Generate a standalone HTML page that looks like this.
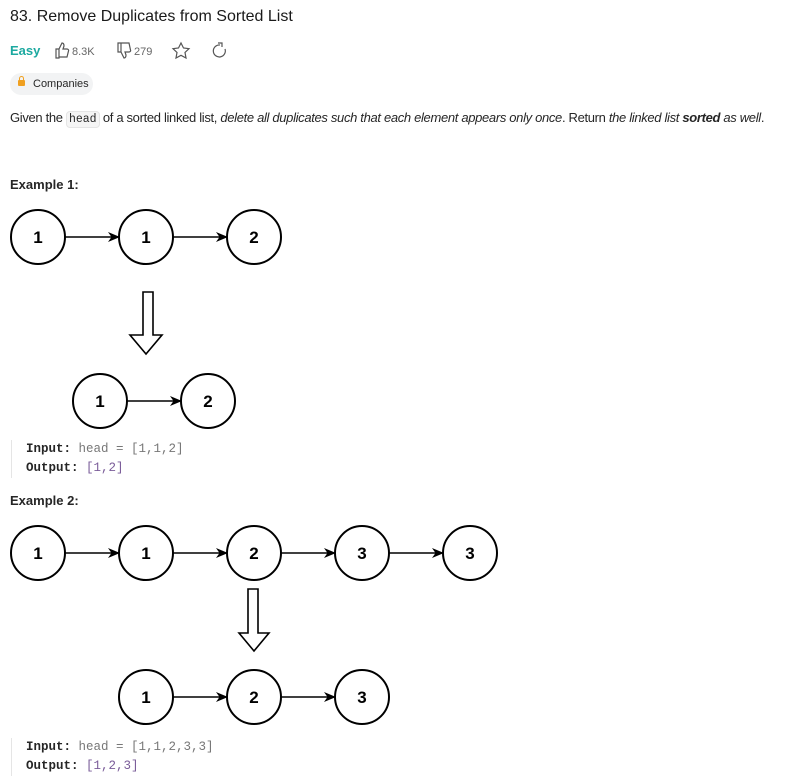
<!DOCTYPE html>
<html><head><meta charset="utf-8"><style>
body{margin:0;width:796px;height:782px;background:#fff;position:relative;font-family:"Liberation Sans",sans-serif;color:#262626;overflow:hidden}
.a{position:absolute;white-space:nowrap}
code{font-family:"Liberation Mono",monospace}
</style></head><body>
<div class="a" style="left:10px;top:8px;font-size:16px;font-weight:500;color:#1a1a1a">83. Remove Duplicates from Sorted List</div>
<div class="a" style="left:10px;top:43px;font-size:13px;color:#1ca9a0;font-weight:600">Easy</div>
<svg class="a" style="left:52px;top:40px" width="180" height="22">
<g fill="none" stroke="#555" stroke-width="1.2">
<path d="M4 9h3v9H4zM7 9l3-6c2 0 2 2 2 3l-1 3h4c1 0 2 1 1.5 2l-1.5 6H7"/>
<path d="M66 12h3V3h-3zM69 12l3 6c2 0 2-2 2-3l-1-3h4c1 0 2-1 1.5-2L77 3h-8"/>
<path d="M129 3l2.5 5 5.5.7-4 3.8 1 5.5-5-2.7-5 2.7 1-5.5-4-3.8 5.5-.7z"/>
<path d="M168 5a6 6 0 1 0 5 4M166 3h4v4"/>
</g>
<text x="20" y="15" font-size="11" fill="#666">8.3K</text>
<text x="82" y="15" font-size="11" fill="#666">279</text>
</svg>
<div class="a" style="left:10px;top:73px;width:83px;height:22px;background:#f2f3f4;border-radius:11px"></div>
<div class="a" style="left:18px;top:80px;width:7px;height:6px;background:#f0a020;border-radius:1px"></div>
<div class="a" style="left:19px;top:76px;width:3px;height:4px;border:1.5px solid #f0a020;border-bottom:none;border-radius:3px 3px 0 0"></div>
<div class="a" style="left:33px;top:78px;font-size:11px">Companies</div>
<div class="a" style="left:10px;top:110px;font-size:13px;letter-spacing:-0.33px">Given the <code style="font-size:11.5px;background:#f5f5f5;border:1px solid #e5e5e5;border-radius:4px;padding:1px 2px;letter-spacing:0">head</code> of a sorted linked list, <i>delete all duplicates such that each element appears only once</i>. Return <i>the linked list <b>sorted</b> as well</i>.</div>
<div class="a" style="left:10px;top:177px;font-size:13px;font-weight:bold">Example 1:</div>
<div class="a" style="left:10px;top:493px;font-size:13px;font-weight:bold">Example 2:</div>
<div class="a" style="left:11px;top:440px;width:1px;height:38px;background:#e5e5e5"></div>
<div class="a" style="left:26px;top:440px;font-size:12.5px;line-height:19px;font-family:'Liberation Mono',monospace"><b>Input:</b> <span style="color:#777">head = </span><span style="color:#777">[1,1,2]</span><br><b>Output:</b> <span style="color:#7a5c99">[1,2]</span></div>
<div class="a" style="left:11px;top:738px;width:1px;height:38px;background:#e5e5e5"></div>
<div class="a" style="left:26px;top:738px;font-size:12.5px;line-height:19px;font-family:'Liberation Mono',monospace"><b>Input:</b> <span style="color:#777">head = [1,1,2,3,3]</span><br><b>Output:</b> <span style="color:#7a5c99">[1,2,3]</span></div>
<svg class="a" style="left:0;top:0" width="796" height="782">
<defs><marker id="m" markerWidth="12" markerHeight="10" refX="11" refY="5" orient="auto" markerUnits="userSpaceOnUse"><path d="M0 0L12 5L0 10L3.5 5z" fill="#000"/></marker></defs>
<g fill="#fff" stroke="#000" stroke-width="2">
<circle cx="38" cy="237" r="27"/><circle cx="146" cy="237" r="27"/><circle cx="254" cy="237" r="27"/>
<circle cx="100" cy="401" r="27"/><circle cx="208" cy="401" r="27"/>
<circle cx="38" cy="553" r="27"/><circle cx="146" cy="553" r="27"/><circle cx="254" cy="553" r="27"/><circle cx="362" cy="553" r="27"/><circle cx="470" cy="553" r="27"/>
<circle cx="146" cy="697" r="27"/><circle cx="254" cy="697" r="27"/><circle cx="362" cy="697" r="27"/>
<path d="M143 292h10v43h9l-16 19-16-19h13z" stroke-width="1.6"/>
<path d="M248 589h10v44h11l-15 18-15-18h9z" stroke-width="1.6"/>
</g>
<g stroke="#000" stroke-width="1.6" marker-end="url(#m)">
<line x1="65" y1="237" x2="119" y2="237"/><line x1="173" y1="237" x2="227" y2="237"/>
<line x1="127" y1="401" x2="181" y2="401"/>
<line x1="65" y1="553" x2="119" y2="553"/><line x1="173" y1="553" x2="227" y2="553"/><line x1="281" y1="553" x2="335" y2="553"/><line x1="389" y1="553" x2="443" y2="553"/>
<line x1="173" y1="697" x2="227" y2="697"/><line x1="281" y1="697" x2="335" y2="697"/>
</g>
<g font-size="17" font-weight="bold" text-anchor="middle" fill="#000" font-family="Liberation Sans,sans-serif">
<text x="38" y="243">1</text><text x="146" y="243">1</text><text x="254" y="243">2</text>
<text x="100" y="407">1</text><text x="208" y="407">2</text>
<text x="38" y="559">1</text><text x="146" y="559">1</text><text x="254" y="559">2</text><text x="362" y="559">3</text><text x="470" y="559">3</text>
<text x="146" y="703">1</text><text x="254" y="703">2</text><text x="362" y="703">3</text>
</g>
</svg>
</body></html>
